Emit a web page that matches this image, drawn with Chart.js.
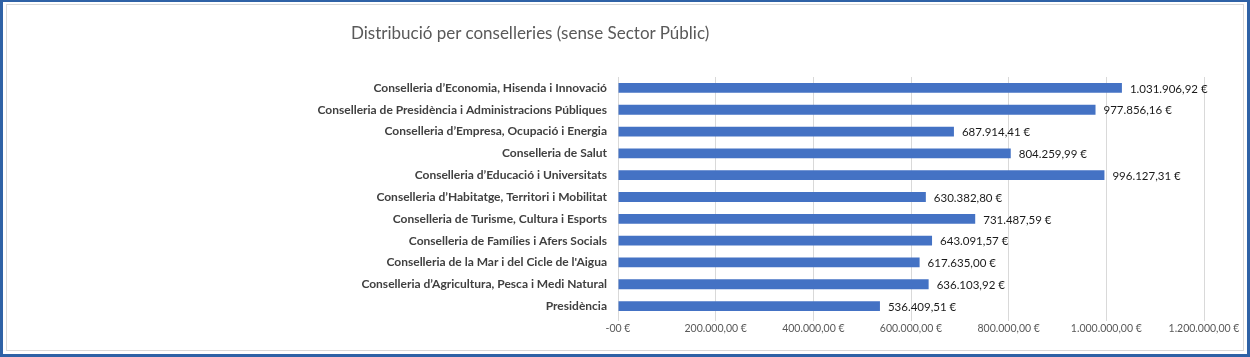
<!DOCTYPE html>
<html><head><meta charset="utf-8">
<script src="https://cdn.jsdelivr.net/npm/chart.js@4/dist/chart.umd.min.js"></script>
<style>
html,body{margin:0;padding:0;background:#fff;}
#wrap{position:relative;width:1250px;height:357px;overflow:hidden;}
#frame{position:absolute;left:0;top:0;width:1250px;height:357px;box-sizing:border-box;border:3px solid #2f62a6;border-top-width:2px;pointer-events:none;}
#inner{position:absolute;left:3px;top:2px;right:3px;bottom:3px;border:1px solid #d9d9d9;pointer-events:none;}
#title{position:absolute;left:351px;top:22px;font-family:Lato,sans-serif;font-size:17px;color:#595959;white-space:nowrap;}
canvas{position:absolute;left:0;top:0;}
</style></head>
<body>
<div id="wrap">
<canvas id="c" width="1250" height="357"></canvas>
<div id="title">Distribució per conselleries (sense Sector Públic)</div>
<div id="frame"><div id="inner"></div></div>
</div>
<script>
const categories = [
  "Conselleria d\u2019Economia, Hisenda i Innovació",
  "Conselleria de Presidència i Administracions Públiques",
  "Conselleria d\u2019Empresa, Ocupació i Energia",
  "Conselleria de Salut",
  "Conselleria d\u2019Educació i Universitats",
  "Conselleria d\u2019Habitatge, Territori i Mobilitat",
  "Conselleria de Turisme, Cultura i Esports",
  "Conselleria de Famílies i Afers Socials",
  "Conselleria de la Mar i del Cicle de l'Aigua",
  "Conselleria d\u2019Agricultura, Pesca i Medi Natural",
  "Presidència"
];
const values = [1031906.92, 977856.16, 687914.41, 804259.99, 996127.31, 630382.80, 731487.59, 643091.57, 617635.00, 636103.92, 536409.51];
const valueLabels = ["1.031.906,92 €","977.856,16 €","687.914,41 €","804.259,99 €","996.127,31 €","630.382,80 €","731.487,59 €","643.091,57 €","617.635,00 €","636.103,92 €","536.409,51 €"];
const tickLabels = ["-00 €","200.000,00 €","400.000,00 €","600.000,00 €","800.000,00 €","1.000.000,00 €","1.200.000,00 €"];

const valueLabelPlugin = {
  id: 'valueLabels',
  afterDatasetsDraw(chart) {
    const ctx = chart.ctx;
    const meta = chart.getDatasetMeta(0);
    ctx.save();
    ctx.font = '11.5px Lato, sans-serif';
    ctx.fillStyle = '#1a1a1a';
    ctx.textAlign = 'left';
    ctx.textBaseline = 'middle';
    meta.data.forEach((bar, i) => {
      ctx.fillText(valueLabels[i], bar.x + 8, bar.y + 1);
    });
    ctx.restore();
  }
};

new Chart(document.getElementById('c'), {
  type: 'bar',
  data: {
    labels: categories,
    datasets: [{
      data: values,
      backgroundColor: '#4472c4',
      borderWidth: 0,
      barPercentage: 0.9,
      categoryPercentage: 0.5
    }]
  },
  options: {
    indexAxis: 'y',
    responsive: false,
    animation: false,
    events: [],
    layout: { padding: { top: 77, right: 46, left: 0, bottom: 0 } },
    plugins: { legend: { display: false }, tooltip: { enabled: false }, title: { display: false } },
    scales: {
      x: {
        min: 0, max: 1200000,
        afterBuildTicks(scale) {
          scale.ticks = tickLabels.map((t, i) => ({ value: i * 200000 }));
        },
        afterFit(scale) { scale.height = 40; },
        grid: { color: '#d9d9d9', tickLength: 4, drawTicks: true, tickColor: '#d9d9d9' },
        border: { display: false },
        ticks: {
          padding: 1,
          color: '#595959',
          font: { family: 'Lato, sans-serif', size: 10.5 },
          callback: (v, i) => tickLabels[i]
        }
      },
      y: {
        afterFit(scale) { scale.width = 618; },
        grid: { display: false, drawTicks: false },
        border: { display: false },
        ticks: {
          padding: 11,
          color: '#404040',
          font: { family: 'Lato, sans-serif', size: 12, weight: 'bold' },
          autoSkip: false
        }
      }
    }
  },
  plugins: [valueLabelPlugin]
});
</script>
</body></html>
